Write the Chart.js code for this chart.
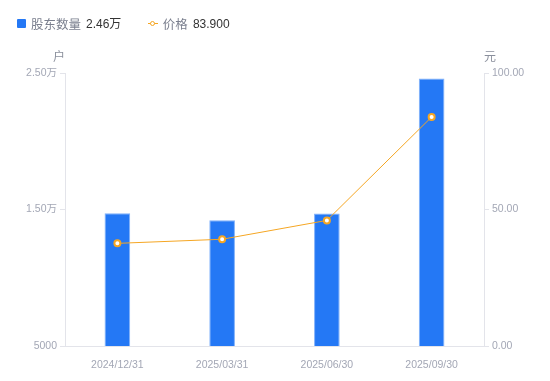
<!DOCTYPE html>
<html>
<head>
<meta charset="utf-8">
<script src="https://cdn.jsdelivr.net/npm/chart.js@4.4.0/dist/chart.umd.min.js"></script>
<style>
  html, body { margin: 0; padding: 0; background: #fff; }
  body { width: 550px; height: 381px; position: relative; overflow: hidden;
         font-family: "Liberation Sans", "Noto Sans CJK SC", sans-serif; }
  #wrap { position: absolute; left: 0; top: 0; width: 550px; height: 381px; }
  .legend { position: absolute; top: 13px; left: 17px; font-size: 12.5px; line-height: 20px; white-space: nowrap; }
  .legend span { display: inline-block; vertical-align: middle; }
  .sq { width: 9px; height: 9px; background: #2478f5; border-radius: 1px; margin-right: 5px; }
  .lbl { color: #7a7f8e; margin-right: 5px; font-family: "Noto Sans CJK SC", sans-serif; }
  .val { color: #333; margin-right: 23px; font-size: 12px; }
  .ln { position: relative; width: 10px; height: 9px; margin-right: 5px; }
  .ln:before { content: ""; position: absolute; left: 0; right: 0; top: 4px; height: 1px; background: #f5a623; }
  .ln:after { content: ""; position: absolute; left: 2px; top: 1.5px; width: 3px; height: 3px; border: 1.5px solid #f5a623; border-radius: 50%; background: #fff; }
  .unit { position: absolute; top: 47px; font-size: 12px; color: #8a8f9c; font-family: "Noto Sans CJK SC", sans-serif; }
</style>
</head>
<body>
<div id="wrap"><canvas id="c" width="550" height="381"></canvas></div>
<div class="legend">
  <span class="sq"></span><span class="lbl">股东数量</span><span class="val" id="v1"></span>
  <span class="ln"></span><span class="lbl">价格</span><span class="val" id="v2"></span>
</div>
<div class="unit" style="left:53px">户</div>
<div class="unit" style="left:484px">元</div>
<script>
// ======== DATA ========
const dates   = ['2024/12/31', '2025/03/31', '2025/06/30', '2025/09/30'];
const holders = [14720, 14210, 14700, 24600];
const prices  = [37.6, 39.1, 46.0, 83.9];
const leftTicks  = [5000, 15000, 25000];
const rightTicks = [0, 50, 100];

const BLUE   = '#2478f5';
const ORANGE = '#f5a623';
const AXIS   = '#e3e4ea';
const TICK   = '#a3a7b5';

function fmtHolders(v) {
  return v >= 10000 ? (v / 10000).toFixed(2) + '万' : String(v);
}

document.getElementById('v1').textContent = fmtHolders(holders[holders.length - 1]);
document.getElementById('v2').textContent = prices[prices.length - 1].toFixed(3);

const font = { family: '"Liberation Sans", "Noto Sans CJK SC", sans-serif', size: 10.5 };

new Chart(document.getElementById('c'), {
  data: {
    labels: dates,
    datasets: [
      {
        type: 'line',
        label: '价格',
        data: prices,
        yAxisID: 'y1',
        borderColor: ORANGE,
        borderWidth: 1,
        pointRadius: 3,
        pointBorderWidth: 2,
        pointBackgroundColor: '#fff',
        pointBorderColor: ORANGE,
        tension: 0,
        order: 0,
      },
      {
        type: 'bar',
        label: '股东数量',
        data: holders,
        yAxisID: 'y',
        backgroundColor: BLUE,
        borderColor: '#7fb0fa',
        borderWidth: { top: 1, left: 1, right: 1, bottom: 0 },
        barPercentage: 0.245,
        categoryPercentage: 1,
        order: 1,
      },
    ],
  },
  options: {
    responsive: false,
    animation: false,
    devicePixelRatio: 1,
    layout: { padding: { top: 73, left: 0, right: 0, bottom: 0 } },
    plugins: { legend: { display: false }, tooltip: { enabled: false } },
    scales: {
      x: {
        grid: { display: false },
        border: { display: true, color: AXIS, width: 1 },
        ticks: { color: TICK, font: font, padding: 5, maxRotation: 0 },
        afterFit: s => { s.height = 35; },
      },
      y: {
        position: 'left',
        min: 5000, max: 25000,
        afterBuildTicks: s => { s.ticks = leftTicks.map(v => ({ value: v })); },
        grid: { drawOnChartArea: false, drawTicks: true, tickLength: 5, color: AXIS },
        border: { display: true, color: AXIS, width: 1 },
        ticks: { color: TICK, font: font, padding: 3, callback: v => fmtHolders(v) },
        afterFit: s => { s.width = 65; },
      },
      y1: {
        position: 'right',
        min: 0, max: 100,
        afterBuildTicks: s => { s.ticks = rightTicks.map(v => ({ value: v })); },
        grid: { drawOnChartArea: false, drawTicks: true, tickLength: 5, color: AXIS },
        border: { display: true, color: AXIS, width: 1 },
        ticks: { color: TICK, font: font, padding: 3, callback: v => v.toFixed(2) },
        afterFit: s => { s.width = 66; },
      },
    },
  },
});
</script>
</body>
</html>
